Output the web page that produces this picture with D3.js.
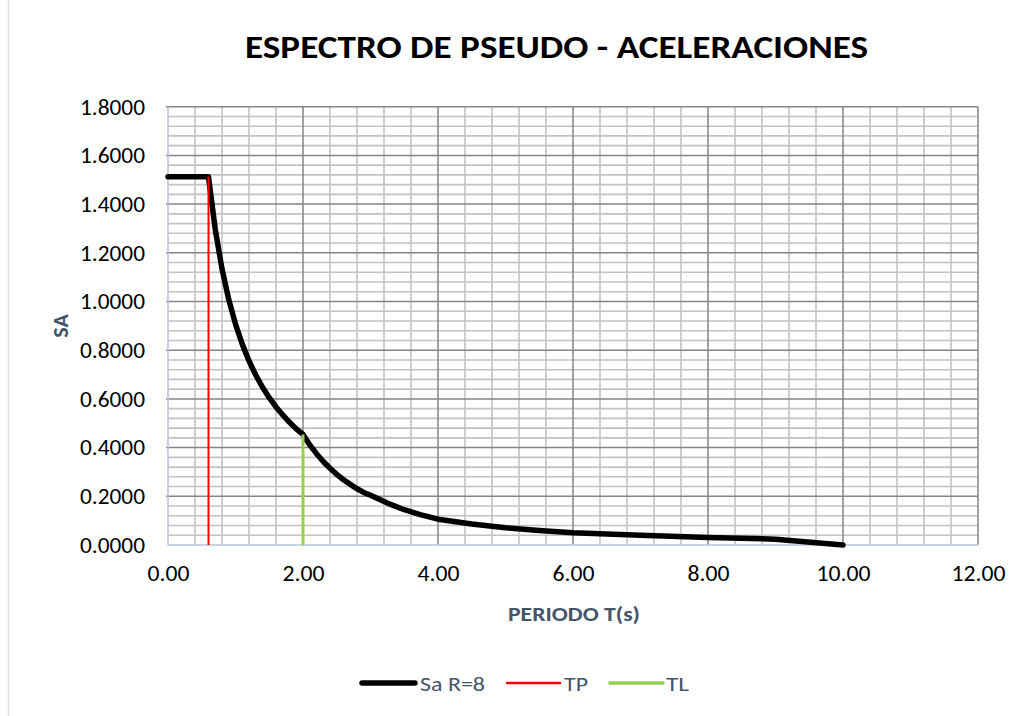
<!DOCTYPE html>
<html>
<head>
<meta charset="utf-8">
<script src="https://cdn.jsdelivr.net/npm/d3@7"></script>
<style>
html,body{margin:0;padding:0;background:#fff;}
svg{display:block;font-family:Carlito, Lato, "Open Sans", sans-serif;}
</style>
</head>
<body>
<svg id="chart" width="1024" height="716"></svg>
<script>
// ---- data ----
const periods = [0,0.1,0.2,0.3,0.4,0.5,0.6,0.7,0.8,0.9,1.0,1.1,1.2,1.3,1.4,1.5,1.6,1.7,1.8,1.9,2.0,2.1,2.2,2.3,2.4,2.5,2.6,2.7,2.8,2.9,3.0,3.25,3.5,3.75,4.0,4.5,5.0,5.5,6.0,7.0,8.0,9.0,10.0];
const saValues = [1.512,1.512,1.512,1.512,1.512,1.512,1.512,1.296,1.134,1.008,0.907,0.825,0.756,0.698,0.648,0.605,0.567,0.534,0.504,0.477,0.454,0.411,0.375,0.343,0.315,0.290,0.268,0.249,0.231,0.216,0.204,0.172,0.145,0.124,0.106,0.086,0.071,0.060,0.050,0.040,0.031,0.024,0.0];
const tpLineT = [0.6,0.6];
const tpLineSa = [0,1.512];
const tlLineT = [2.0,2.0];
const tlLineSa = [0,0.454];
const xTicks = [0,2,4,6,8,10,12];
const yTicks = [0,0.2,0.4,0.6,0.8,1.0,1.2,1.4,1.6,1.8];
const seriesNames = ["Sa R=8","TP","TL"];
const titleText = "ESPECTRO DE PSEUDO - ACELERACIONES";
const xTitle = "PERIODO T(s)";
const yTitle = "SA";

// ---- layout ----
const svg = d3.select("#chart");
const x = d3.scaleLinear().domain([0,12]).range([168,978]);
const y = d3.scaleLinear().domain([0,1.8]).range([545,106.7]);

// outer left border
svg.append("line").attr("x1",8.5).attr("x2",8.5).attr("y1",0).attr("y2",716)
  .attr("stroke","#d9e1ec").attr("stroke-width",1.5);

// title
svg.append("text").attr("x",556.5).attr("y",58).attr("text-anchor","middle")
  .attr("font-size",32).attr("font-weight","bold").attr("fill","#000")
  .attr("textLength",623).attr("lengthAdjust","spacingAndGlyphs")
  .text(titleText);

const grid = svg.append("g");
// minor grid
const xMinor = d3.range(0,12.0001,0.4).filter(v=>Math.abs(v/2-Math.round(v/2))>1e-6);
const yMinor = d3.range(0,1.80001,0.04).filter(v=>Math.abs(v/0.2-Math.round(v/0.2))>1e-6);
grid.selectAll(".xm").data(xMinor).enter().append("line")
  .attr("x1",d=>x(d)).attr("x2",d=>x(d)).attr("y1",y(1.8)).attr("y2",y(0))
  .attr("stroke","#c3c3c3").attr("stroke-width",1.6);
grid.selectAll(".ym").data(yMinor).enter().append("line")
  .attr("x1",x(0)).attr("x2",x(12)).attr("y1",d=>y(d)).attr("y2",d=>y(d))
  .attr("stroke","#c3c3c3").attr("stroke-width",1.6);
// major grid
grid.selectAll(".xM").data(xTicks.filter(d=>d>0)).enter().append("line")
  .attr("x1",d=>x(d)).attr("x2",d=>x(d)).attr("y1",y(1.8)).attr("y2",y(0))
  .attr("stroke","#858585").attr("stroke-width",1.5);
grid.selectAll(".yM").data(yTicks.filter(d=>d>0)).enter().append("line")
  .attr("x1",x(0)-2).attr("x2",x(12)).attr("y1",d=>y(d)).attr("y2",d=>y(d))
  .attr("stroke","#858585").attr("stroke-width",1.5);
// axis lines
svg.append("line").attr("x1",x(0)).attr("x2",x(0)).attr("y1",y(1.8)).attr("y2",y(0))
  .attr("stroke","#b9c6dc").attr("stroke-width",1.6);
svg.append("line").attr("x1",x(0)).attr("x2",x(12)).attr("y1",y(0)).attr("y2",y(0))
  .attr("stroke","#b9c6dc").attr("stroke-width",1.6);

// axes labels via d3 axes
const yAxis = d3.axisLeft(y).tickValues(yTicks).tickFormat(d3.format(".4f")).tickSize(0).tickPadding(23);
const gy = svg.append("g").attr("transform",`translate(${x(0)},0)`).call(yAxis);
gy.select(".domain").remove();
gy.selectAll("text").attr("font-size",23).attr("fill","#000").attr("font-family","Carlito, Lato, sans-serif")
  .attr("textLength",65).attr("lengthAdjust","spacingAndGlyphs");

const xAxis = d3.axisBottom(x).tickValues(xTicks).tickFormat(d3.format(".2f")).tickSize(0).tickPadding(20);
const gx = svg.append("g").attr("transform",`translate(0,${y(0)})`).call(xAxis);
gx.select(".domain").remove();
gx.selectAll("text").attr("font-size",23).attr("fill","#000").attr("font-family","Carlito, Lato, sans-serif")
  .attr("textLength",d=>d>=10?54:42).attr("lengthAdjust","spacingAndGlyphs");

// axis titles
svg.append("text").attr("x",574).attr("y",621).attr("text-anchor","middle")
  .attr("font-size",21).attr("font-weight","bold").attr("fill","#44546a")
  .attr("textLength",132).attr("lengthAdjust","spacingAndGlyphs").text(xTitle);
svg.append("text").attr("transform","translate(68,326) rotate(-90)").attr("text-anchor","middle")
  .attr("font-size",22).attr("font-weight","bold").attr("fill","#44546a").text(yTitle);

// series
const saData = periods.map((t,i)=>({t, v: saValues[i]}));
const tpData = tpLineT.map((t,i)=>({t, v: tpLineSa[i]}));
const tlData = tlLineT.map((t,i)=>({t, v: tlLineSa[i]}));
const line = d3.line().x(d=>x(d.t)).y(d=>y(d.v));

svg.append("path").datum(saData).attr("d",line).attr("fill","none")
  .attr("stroke","#000").attr("stroke-width",5.5).attr("stroke-linejoin","round").attr("stroke-linecap","round");
svg.append("path").datum(tpData).attr("d",line).attr("fill","none")
  .attr("stroke","#ff0000").attr("stroke-width",2);
svg.append("path").datum(tlData).attr("d",line).attr("fill","none")
  .attr("stroke","#92d050").attr("stroke-width",3);

// legend
const legendItems = [
  {name: seriesNames[0], color:"#000", w:5.5, x1:362, x2:415, tx:420, tw:65},
  {name: seriesNames[1], color:"#ff0000", w:2.5, x1:507, x2:560, tx:564, tw:24},
  {name: seriesNames[2], color:"#92d050", w:3.5, x1:610, x2:663, tx:666, tw:23}
];
const lg = svg.append("g");
legendItems.forEach(it=>{
  lg.append("line").attr("x1",it.x1).attr("x2",it.x2).attr("y1",683).attr("y2",683)
    .attr("stroke",it.color).attr("stroke-width",it.w).attr("stroke-linecap","round");
  lg.append("text").attr("x",it.tx).attr("y",691).attr("font-size",21).attr("fill","#44546a")
    .attr("textLength",it.tw).attr("lengthAdjust","spacingAndGlyphs").text(it.name);
});
</script>
</body>
</html>
